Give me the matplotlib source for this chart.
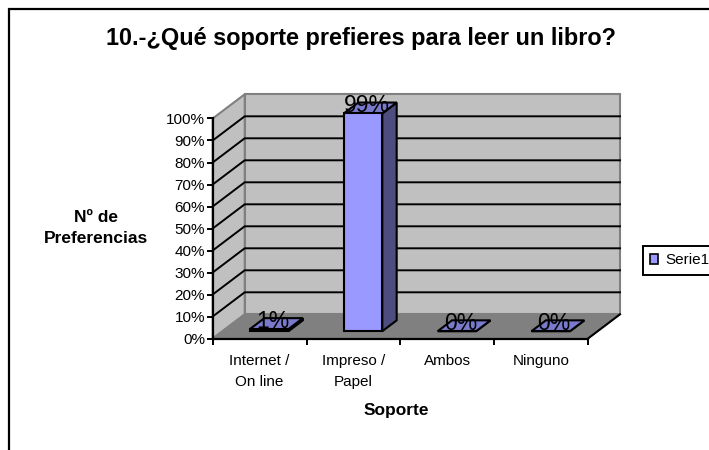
import matplotlib
matplotlib.use("Agg")
import matplotlib.pyplot as plt
from matplotlib.patches import Polygon, Patch, Rectangle

# data
categories = ["Internet /\nOn line", "Impreso /\nPapel", "Ambos", "Ninguno"]
values = [1, 99, 0, 0]
value_labels = ["1%", "99%", "0%", "0%"]
y_ticks = [0, 10, 20, 30, 40, 50, 60, 70, 80, 90, 100]
series_name = "Serie1"

plt.rcParams["font.family"] = ["Liberation Sans", "DejaVu Sans"]

W, H = 709, 450
fig = plt.figure(figsize=(W / 100, H / 100), dpi=100, facecolor="white")

# outer frame runs off the right and bottom edge
fig.add_artist(Rectangle((9 / W, -0.1), 1.1, 1 + 0.1 - 9.5 / H, transform=fig.transFigure,
                         fill=False, edgecolor="black", linewidth=1.6))

# front plane of the fake 3d box
left, right, top, bottom = 212.7, 588, 118.5, 338.5
ax = fig.add_axes([left / W, (H - bottom) / H, (right - left) / W, (bottom - top) / H])
ax.set_xlim(0, 4)
ax.set_ylim(0, 100)
ax.patch.set_alpha(0)

# depth of the box in data units
depth_x = 32 / ((right - left) / 4)
depth_y = 24.2 / ((bottom - top) / 100)


def proj(x, y, d):
    # d goes from 0 (front) to 1 (back wall)
    return (x + d * depth_x, y + d * depth_y)


def face(points, **kw):
    ax.add_patch(Polygon(points, closed=True, clip_on=False, **kw))


# walls and floor
wall_col = "#C0C0C0"
edge_col = "#808080"
face([proj(0, 0, 1), proj(4, 0, 1), proj(4, 100, 1), proj(0, 100, 1)],
     facecolor=wall_col, edgecolor=edge_col, linewidth=1.5, zorder=1)
face([proj(0, 0, 0), proj(0, 0, 1), proj(0, 100, 1), proj(0, 100, 0)],
     facecolor=wall_col, edgecolor=edge_col, linewidth=1.5, zorder=1)
face([proj(0, 0, 0), proj(4, 0, 0), proj(4, 0, 1), proj(0, 0, 1)],
     facecolor=edge_col, edgecolor=edge_col, linewidth=1, zorder=1)
ax.plot(*zip(proj(4, 0, 0), proj(4, 0, 1)), color="black", lw=1.5, clip_on=False, zorder=2)

# grid lines on side wall and back wall
for t in y_ticks[1:-1]:
    a, b, c = proj(0, t, 0), proj(0, t, 1), proj(4, t, 1)
    ax.plot([a[0], b[0], c[0]], [a[1], b[1], c[1]], color="black", lw=1.4,
            clip_on=False, zorder=2, solid_joinstyle="miter")

# bars
bar_w = 0.41
bar_d0, bar_d1 = 0.30, 0.75
for i, v in enumerate(values):
    x0 = i + 0.5 - bar_w / 2
    x1 = i + 0.5 + bar_w / 2
    kw = dict(edgecolor="black", linewidth=1.5, joinstyle="miter", zorder=3)
    face([proj(x1, 0, bar_d0), proj(x1, 0, bar_d1), proj(x1, v, bar_d1), proj(x1, v, bar_d0)],
         facecolor="#4D4D80", **kw)
    face([proj(x0, v, bar_d0), proj(x1, v, bar_d0), proj(x1, v, bar_d1), proj(x0, v, bar_d1)],
         facecolor="#7A7ACC", **kw)
    face([proj(x0, 0, bar_d0), proj(x1, 0, bar_d0), proj(x1, v, bar_d0), proj(x0, v, bar_d0)],
         facecolor="#9999FF", **kw)
    ax.annotate(value_labels[i], proj(i + 0.5, v, bar_d0), xytext=(2.5, 1), textcoords="offset points",
                ha="center", va="baseline", fontsize=16.5, color="black", annotation_clip=False, zorder=4)

# axes
for s in ["top", "right"]:
    ax.spines[s].set_visible(False)
for s in ["left", "bottom"]:
    ax.spines[s].set_linewidth(1.6)
    ax.spines[s].set_zorder(5)
ax.set_yticks(y_ticks)
ax.set_yticklabels([str(t) + "%" for t in y_ticks], fontsize=11)
ax.set_xticks(range(5))
ax.set_xticklabels([])
ax.set_xticks([i + 0.5 for i in range(4)], minor=True)
ax.set_xticklabels(categories, minor=True, fontsize=11, linespacing=1.65)
ax.tick_params(axis="y", length=4, width=1.4, pad=1.5)
ax.tick_params(axis="x", which="major", length=4, width=1.4)
ax.tick_params(axis="x", which="minor", length=0, pad=11)

# titles
fig.text(361 / W, 1 - 38.5 / H, "10.-¿Qué soporte prefieres para leer un libro?", ha="center", va="center",
         fontsize=16.9, fontweight="bold")
fig.text(96 / W, 1 - 228 / H, "Nº de\nPreferencias", ha="center", va="center", fontsize=12.5,
         fontweight="bold", linespacing=1.45)
fig.text(396 / W, 1 - 411 / H, "Soporte", ha="center", va="center", fontsize=12.5, fontweight="bold")

# legend
handle = Patch(facecolor="#9999FF", edgecolor="black", linewidth=1.2, label=series_name)
leg = fig.legend(handles=[handle], loc="center left", bbox_to_anchor=(642.5 / W, 1 - 260.5 / H),
                 frameon=True, fancybox=False, edgecolor="black", framealpha=1, fontsize=11,
                 handlelength=0.5, handleheight=0.6, handletextpad=0.52, borderpad=0.5,
                 borderaxespad=0)
leg.get_frame().set_linewidth(1.4)

fig.savefig("out.png", dpi=100)
